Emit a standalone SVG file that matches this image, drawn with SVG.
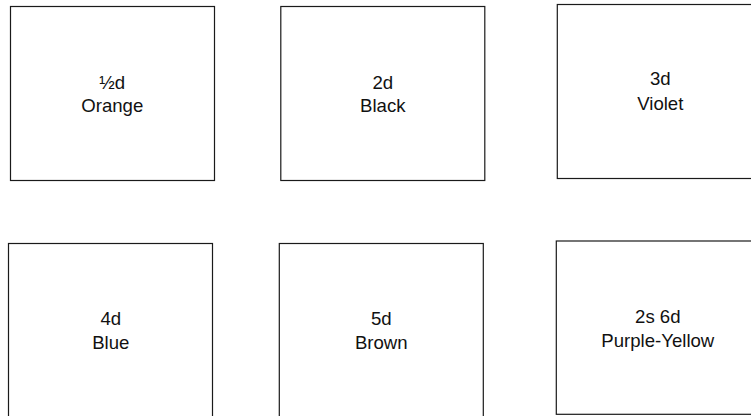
<svg xmlns="http://www.w3.org/2000/svg" width="751" height="416" viewBox="0 0 751 416">
<style>
.box{fill:#fff;stroke:#1a1a1a;stroke-width:1.2}
.t{font-family:"Liberation Sans",Arial,sans-serif;font-size:18.6px;fill:#111;text-anchor:middle}
</style>
<rect width="751" height="416" fill="#fff"/>
<g id="connectors"></g>
<g id="n1"><rect class="box" x="10.5" y="6.5" width="204" height="174"/><text class="t" x="112.3" y="88.5">½d</text><text class="t" x="112.3" y="112">Orange</text></g>
<g id="n2"><rect class="box" x="280.8" y="6.5" width="204" height="174"/><text class="t" x="382.8" y="88.5">2d</text><text class="t" x="382.8" y="112">Black</text></g>
<g id="n3"><rect class="box" x="557.3" y="4.5" width="204" height="174"/><text class="t" x="660.3" y="85">3d</text><text class="t" x="660.3" y="109.5">Violet</text></g>
<g id="n4"><rect class="box" x="8.5" y="243.5" width="204" height="174"/><text class="t" x="110.8" y="324.5">4d</text><text class="t" x="110.8" y="348.5">Blue</text></g>
<g id="n5"><rect class="box" x="279.3" y="243.5" width="204" height="174"/><text class="t" x="381.3" y="324.5">5d</text><text class="t" x="381.3" y="349">Brown</text></g>
<g id="n6"><rect class="box" x="556.3" y="241" width="204" height="173.3"/><text class="t" x="657.8" y="322.7">2s 6d</text><text class="t" x="657.8" y="346.7">Purple-Yellow</text></g>
</svg>
